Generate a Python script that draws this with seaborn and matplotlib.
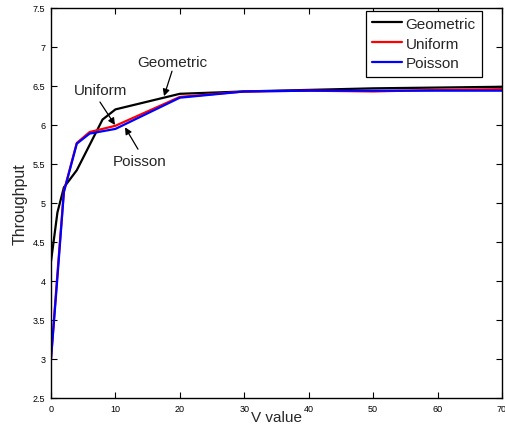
import matplotlib
matplotlib.use("Agg")
import matplotlib.pyplot as plt
import seaborn as sns
import pandas as pd

geo_x = [0, 1, 2, 4, 8, 10, 20, 30, 40, 50, 60, 70]
geo_y = [4.25, 4.88, 5.2, 5.42, 6.07, 6.2, 6.4, 6.43, 6.45, 6.47, 6.48, 6.49]
uni_x = [0, 1, 2, 4, 6, 10, 20, 30, 40, 50, 60, 70]
uni_y = [3.0, 4.1, 5.15, 5.77, 5.91, 5.99, 6.36, 6.43, 6.44, 6.43, 6.45, 6.46]
poi_x = [0, 1, 2, 4, 6, 10, 20, 30, 40, 50, 60, 70]
poi_y = [3.0, 4.05, 5.14, 5.76, 5.89, 5.95, 6.35, 6.43, 6.44, 6.44, 6.44, 6.44]

series = ["Geometric", "Uniform", "Poisson"]
colors = ["#000000", "#ff0000", "#0000ff"]

df = pd.concat([
    pd.DataFrame({"V": geo_x, "T": geo_y, "s": "Geometric"}),
    pd.DataFrame({"V": uni_x, "T": uni_y, "s": "Uniform"}),
    pd.DataFrame({"V": poi_x, "T": poi_y, "s": "Poisson"}),
])

sns.set_style("ticks")
plt.rcParams["font.family"] = ["Liberation Sans", "DejaVu Sans"]

fig = plt.figure(figsize=(5.06, 4.27), dpi=100)
ax = fig.add_axes([51/506, 28/427, 451/506, 390/427])

sns.lineplot(data=df, x="V", y="T", hue="s", hue_order=series,
             palette=dict(zip(series, colors)), linewidth=1.6,
             sort=False, estimator=None, ax=ax)

ax.set_xlim(0, 70)
ax.set_ylim(2.5, 7.5)
ax.set_xticks(range(0, 71, 10))
ax.set_yticks([2.5, 3, 3.5, 4, 4.5, 5, 5.5, 6, 6.5, 7, 7.5])
ax.set_yticklabels(["2.5", "3", "3.5", "4", "4.5", "5", "5.5", "6", "6.5", "7", "7.5"])
ax.tick_params(direction="in", length=4, width=0.8, labelsize=6.5,
               top=True, right=True, pad=4, colors="black")
for sp in ax.spines.values():
    sp.set_visible(True)
    sp.set_color("black")
    sp.set_linewidth(1.0)

ax.set_xlabel("V value", fontsize=11, labelpad=-1.5)
ax.set_ylabel("Throughput", fontsize=11.5, labelpad=4)

arrow = dict(arrowstyle="-|>", color="black", lw=0.9, mutation_scale=10,
             shrinkA=0, shrinkB=0)
# text labels
ax.text(18.78, 6.81, "Geometric", fontsize=11, ha="center", va="center")
ax.text(7.68, 6.45, "Uniform", fontsize=11, ha="center", va="center")
ax.text(13.74, 5.54, "Poisson", fontsize=11, ha="center", va="center")
# arrows
ax.annotate("", xy=(17.54, 6.37), xytext=(18.78, 6.69), arrowprops=arrow)
ax.annotate("", xy=(9.93, 6.0), xytext=(7.6, 6.295), arrowprops=arrow)
ax.annotate("", xy=(11.49, 5.97), xytext=(13.5, 5.69), arrowprops=arrow)

leg = ax.legend(loc="upper right", fontsize=11, frameon=True, fancybox=False,
                edgecolor="black", framealpha=1, borderpad=0.4,
                labelspacing=0.38, handlelength=2.0, handletextpad=0.2,
                bbox_to_anchor=(0.955, 0.993), borderaxespad=0)
leg.get_frame().set_linewidth(0.9)
for h in leg.get_lines():
    h.set_linewidth(1.6)

fig.savefig("out.png", dpi=100)
